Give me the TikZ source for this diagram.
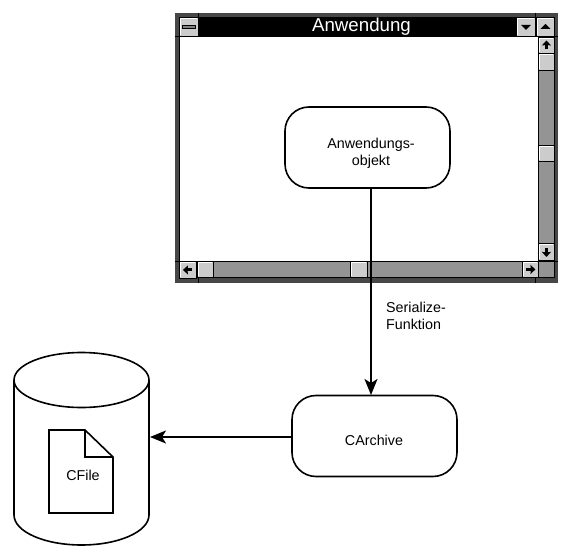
\documentclass[tikz,border=0pt]{standalone}
\usepackage{fontspec}
\setmainfont{Liberation Sans}
\usetikzlibrary{calc, positioning, arrows.meta}

\begin{document}
\begin{tikzpicture}[
  x=1pt, y=-1pt,
  box/.style={rectangle, rounded corners=24pt, minimum width=165pt, minimum height=81pt, draw, line width=1.6pt, fill=white},
  txt/.style={align=center, font=\fontsize{14.3}{17}\selectfont, inner sep=0pt},
  btn/.style={rectangle, anchor=north west, draw=black, line width=0.9pt, fill=black!20, minimum width=#1, minimum height=17pt, inner sep=0pt},
  btn/.default=17pt,
  tip/.style={fill=black, draw=none},
  arr/.style={-{Stealth[length=16pt, width=13pt, inset=4pt]}, line width=1.8pt},
  scrollarr/.style={-{Stealth[length=5pt, width=9pt, inset=0.5pt]}, line width=3pt}
]
\useasboundingbox (0,0) rectangle (573,559);
% window frame
\fill[black!72] (175,13) rectangle (558,283);
\fill[white] (179,37) rectangle (538,261);
\fill[black] (198,17) rectangle (516,36);
\fill[black!42] (538,53) rectangle (554,261);
\fill[black!42] (196,261) rectangle (522,277);
\fill[black!42] (538,261) rectangle (554,277);
\draw[line width=0.9pt] (179,17) -- (554,17) -- (554,277) -- (179,277) -- cycle;
\draw[line width=0.9pt] (175,36) -- (179,36) (554,36) -- (558,36) (554,261) -- (558,261) (175,261) -- (179,261);
\draw[line width=0.9pt] (198,13) -- (198,17) (535,13) -- (535,17) (198,277) -- (198,283) (535,277) -- (535,283);
\draw[line width=0.9pt] (179,36) -- (538,36) -- (538,277) (179,261) -- (554,261);
\node[anchor=base, text=white, font=\fontsize{18.7}{20}\selectfont, inner sep=0pt] (title) at (361.5,32) {Anwendung};
% title bar buttons
\node[btn=19pt, minimum height=19pt] (sysmenu) at (179,17) {};
\node[rectangle, draw=black, fill=black!50, line width=0.8pt, minimum width=13pt, minimum height=3pt, inner sep=0pt] (sysbar) at (sysmenu.center) {};
\node[btn=19pt, minimum height=19pt] (minbtn) at (516,17) {};
\node[btn=18pt, minimum height=19pt] (maxbtn) at (536,17) {};
\fill[tip] ($(minbtn.center)+(-5,-2)$) -- ++(10,0) -- ++(-5,5) -- cycle;
\fill[tip] ($(maxbtn.center)+(-5,2)$) -- ++(10,0) -- ++(-5,-5) -- cycle;
% scroll bars
\node[btn=16pt, minimum height=16pt] (up) at (538,37) {};
\node[btn=16pt] (vthumb) at (538,53) {};
\node[btn=16pt, minimum height=16pt] (vthumbb) at (538,145) {};
\node[btn=16pt] (down) at (538,243) {};
\node[btn] (left) at (179,261) {};
\node[btn=16pt, minimum height=16pt] (hthumb) at (197,261) {};
\node[btn=17pt, minimum height=16pt] (hthumbb) at (350,261) {};
\node[btn=16pt, minimum height=16pt] (right) at (522,261) {};
\foreach \b in {sysmenu,minbtn,maxbtn,up,vthumb,vthumbb,down,left,hthumb,hthumbb,right}
  \draw[white, line width=1pt] ($(\b.south west)+(1.2,-1.5)$) -- ($(\b.north west)+(1.2,1.2)$) -- ($(\b.north east)+(-1.5,1.2)$);
\draw[scrollarr] ($(up.center)+(0,4)$) -- ($(up.center)+(0,-5)$);
\draw[scrollarr] ($(down.center)+(0,-4)$) -- ($(down.center)+(0,5)$);
\draw[scrollarr] ($(left.center)+(4,0)$) -- ($(left.center)+(-5,0)$);
\draw[scrollarr] ($(right.center)+(-4,0)$) -- ($(right.center)+(5,0)$);
% objects
\node[box] (obj) at (367.5,147.5) {};
\node[txt] (objtext) at (371,153) {Anwendungs-\\objekt};
\node[box] (archive) at (374.5,436) {};
\node[txt] (archtext) at (374,440) {CArchive};
\coordinate (store) at (150,437);
\coordinate (objout) at (371,188);
\coordinate (archin) at (371,395);
\node[txt, anchor=west, align=left] (serial) at (386,316) {Serialize-\\Funktion};
% storage
\draw[line width=1.6pt] (14,380) arc[start angle=180, end angle=-180, x radius=67.5, y radius=27.5];
\draw[line width=1.6pt] (14,380) -- (14,515) arc[start angle=180, end angle=0, x radius=67.5, y radius=30] -- (149,380);
\draw[line width=1.6pt] (49,430) -- (85,430) -- (113,457) -- (113,513) -- (49,513) -- cycle;
\draw[line width=1.6pt] (85,430) -- (85,457) -- (113,457);
\node[txt] (cfile) at (83,475) {CFile};

\draw[arr] (objout) -- (archin);
\draw[arr] (archive.west |- store) -- (store);
\end{tikzpicture}
\end{document}
